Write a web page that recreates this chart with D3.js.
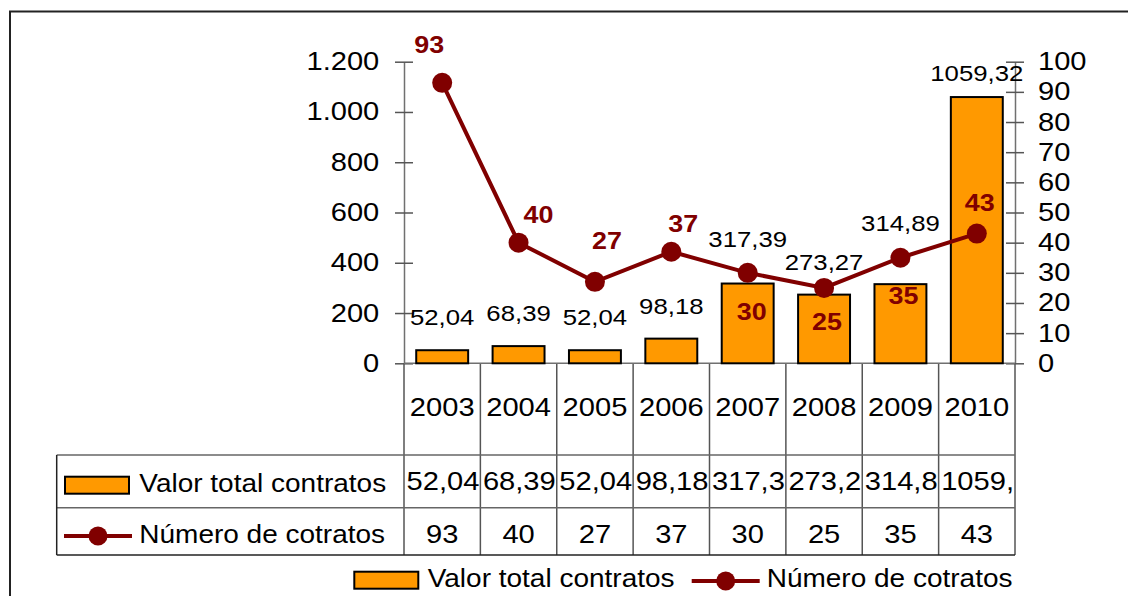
<!DOCTYPE html>
<html>
<head>
<meta charset="utf-8">
<script src="https://cdn.jsdelivr.net/npm/d3@7"></script>
<style>
  body { margin: 0; background: #fff; }
  text { font-family: "Liberation Sans", Arial, sans-serif; fill: #000; }
</style>
</head>
<body>
<div class="chart"></div>
<script>
// data
const years = ["2003", "2004", "2005", "2006", "2007", "2008", "2009", "2010"];
const valorTotal = [52.04, 68.39, 52.04, 98.18, 317.39, 273.27, 314.89, 1059.32];
const numContratos = [93, 40, 27, 37, 30, 25, 35, 43];
const leftTicks = [0, 200, 400, 600, 800, 1000, 1200];
const rightTicks = [0, 10, 20, 30, 40, 50, 60, 70, 80, 90, 100];
const seriesNames = ["Valor total contratos", "Número de cotratos"];

// label placement tweaks (the original labels were hand-moved)
const barLabelLift = [25, 25, 25, 25, 37, 25, 53, 16];
const lineLabelNudge = [[-13, -30], [20, -20], [12, -33], [12, -20], [4, 47], [3, 42], [3, 46], [3, -23]];

const W = 1128, H = 596;
const SX = 1.12; // text in the picture is a bit wider than Arial
const orange = "#FF9900", red = "#800000";
const plot = {left: 404, right: 1015, top: 61.7, bottom: 363.3};
const table = {left: 56.7, top: 455, mid: 507.7, bottom: 555};

const loc = d3.formatLocale({decimal: ",", thousands: ".", grouping: [3], currency: ["", ""]});
const fmtThousands = loc.format(",.0f");
const fmtValue = loc.format(".2f");

d3.select('.chart').selectAll('svg').remove();

const svg = d3.select('.chart').append('svg')
    .attr("width", W)
    .attr("height", H);

svg.append("rect").attr("width", W).attr("height", H).attr("fill", "#fff");

// outer frame, cut off on the right and at the bottom
svg.append("path")
    .attr("d", `M10,${H + 5}V11.5H${W + 5}`)
    .attr("fill", "none")
    .attr("stroke", "#222")
    .attr("stroke-width", 2);

const x = d3.scaleBand()
    .domain(years)
    .range([plot.left, plot.right])
    .paddingInner(0.32)
    .paddingOuter(0.16);

const yL = d3.scaleLinear().domain([0, 1200]).range([plot.bottom, plot.top]);
const yR = d3.scaleLinear().domain([0, 100]).range([plot.bottom, plot.top]);

const cx = d => x(d) + x.bandwidth() / 2;

function label(g, px, py, str, size, anchor, weight, color) {
    return g.append("text")
        .attr("transform", `translate(${px},${py}) scale(${SX},1)`)
        .attr("text-anchor", anchor || "middle")
        .style("font-size", size + "px")
        .style("font-weight", weight || "normal")
        .style("fill", color || "#000")
        .text(str);
}

// left axis
const axL = svg.append("g")
    .attr("transform", `translate(${plot.left},0)`)
    .call(d3.axisLeft(yL).tickValues(leftTicks).tickSize(9).tickSizeOuter(0).tickFormat(fmtThousands));
axL.select(".domain").attr("stroke", "#707070").attr("stroke-width", 1.5);
axL.selectAll(".tick line").attr("x1", 9).attr("stroke", "#555").attr("stroke-width", 1.5);
axL.selectAll(".tick text")
    .attr("x", -24.7 / SX).attr("y", 8).attr("dy", null)
    .attr("transform", `scale(${SX},1)`)
    .style("font-size", "26px").style("font-family", "Liberation Sans, Arial, sans-serif").attr("fill", "#000");

// right axis
const axR = svg.append("g")
    .attr("transform", `translate(${plot.right},0)`)
    .call(d3.axisRight(yR).tickValues(rightTicks).tickSize(9).tickSizeOuter(0));
axR.select(".domain").attr("stroke", "#707070").attr("stroke-width", 1.5);
axR.selectAll(".tick line").attr("x1", -9).attr("stroke", "#555").attr("stroke-width", 1.5);
axR.selectAll(".tick text")
    .attr("x", 23 / SX).attr("y", 8).attr("dy", null)
    .attr("text-anchor", "start")
    .attr("transform", `scale(${SX},1)`)
    .style("font-size", "26px").style("font-family", "Liberation Sans, Arial, sans-serif").attr("fill", "#000");

// category separators (run from the zero line down through the data table)
const bounds = years.map(d => cx(d) - x.step() / 2).concat([plot.right]);
svg.append("g").selectAll("line")
    .data(bounds)
    .enter()
    .append("line")
    .attr("x1", d => d).attr("x2", d => d)
    .attr("y1", plot.bottom).attr("y2", table.bottom)
    .attr("stroke", "#555")
    .attr("stroke-width", 1.5);

// zero line
svg.append("line")
    .attr("x1", plot.left).attr("x2", plot.right)
    .attr("y1", plot.bottom).attr("y2", plot.bottom)
    .attr("stroke", "#707070").attr("stroke-width", 1.5);

// bars
svg.append("g").selectAll("rect")
    .data(years)
    .enter()
    .append("rect")
    .attr("x", d => x(d))
    .attr("width", x.bandwidth())
    .attr("y", (d, i) => yL(valorTotal[i]))
    .attr("height", (d, i) => plot.bottom - yL(valorTotal[i]))
    .attr("fill", orange)
    .attr("stroke", "#000")
    .attr("stroke-width", 2);

const barLabels = svg.append("g");
years.forEach((d, i) => {
    label(barLabels, cx(d), yL(valorTotal[i]) - barLabelLift[i], fmtValue(valorTotal[i]), 23);
});

// line series
const line = d3.line()
    .x((d, i) => cx(years[i]))
    .y(d => yR(d));

svg.append("path")
    .datum(numContratos)
    .attr("d", line)
    .attr("fill", "none")
    .attr("stroke", red)
    .attr("stroke-width", 4);

svg.append("g").selectAll("circle")
    .data(numContratos)
    .enter()
    .append("circle")
    .attr("cx", (d, i) => cx(years[i]))
    .attr("cy", d => yR(d))
    .attr("r", 10)
    .attr("fill", red);

const lineLabels = svg.append("g");
numContratos.forEach((v, i) => {
    label(lineLabels, cx(years[i]) + lineLabelNudge[i][0], yR(v) + lineLabelNudge[i][1], v, 24, "middle", "bold", red);
});

// data table
const tbl = svg.append("g");
[table.top, table.mid, table.bottom].forEach(yy => {
    tbl.append("line")
        .attr("x1", table.left).attr("x2", plot.right)
        .attr("y1", yy).attr("y2", yy)
        .attr("stroke", yy === table.bottom ? "#222" : "#666")
        .attr("stroke-width", 1.5);
});
tbl.append("line")
    .attr("x1", table.left).attr("x2", table.left)
    .attr("y1", table.top).attr("y2", table.bottom)
    .attr("stroke", "#222").attr("stroke-width", 1.5);

// years
years.forEach(d => label(tbl, cx(d), 416, d, 26));

// row 1: values, left aligned and cut at the cell edge like the original
years.forEach((d, i) => {
    const x0 = cx(d) - x.step() / 2;
    const t = label(tbl, x0 + 2.5, 490, fmtValue(valorTotal[i]), 26, "start");
    let s = t.text();
    while (s.length > 1 && t.node().getComputedTextLength() * SX > x.step() - 3) {
        s = s.slice(0, -1);
        t.text(s);
    }
});

// row 2: counts
numContratos.forEach((v, i) => label(tbl, cx(years[i]), 543, v, 26));

// legend keys
function barKey(g, kx, ky) {
    g.append("rect")
        .attr("x", kx).attr("y", ky)
        .attr("width", 64).attr("height", 17)
        .attr("fill", orange).attr("stroke", "#000").attr("stroke-width", 2);
}
function lineKey(g, kx, ky) {
    g.append("line")
        .attr("x1", kx).attr("x2", kx + 68)
        .attr("y1", ky).attr("y2", ky)
        .attr("stroke", red).attr("stroke-width", 4);
    g.append("circle")
        .attr("cx", kx + 34).attr("cy", ky).attr("r", 9.5)
        .attr("fill", red);
}

barKey(tbl, 65, 476.7);
label(tbl, 139.3, 491.7, seriesNames[0], 25, "start");
lineKey(tbl, 64, 536);
label(tbl, 139.3, 543.3, seriesNames[1], 25, "start");

// legend under the chart
const legend = svg.append("g");
barKey(legend, 354.3, 571.7);
label(legend, 427.7, 587, seriesNames[0], 25, "start");
lineKey(legend, 691.7, 581);
label(legend, 766.7, 587, seriesNames[1], 25, "start");
</script>
</body>
</html>
